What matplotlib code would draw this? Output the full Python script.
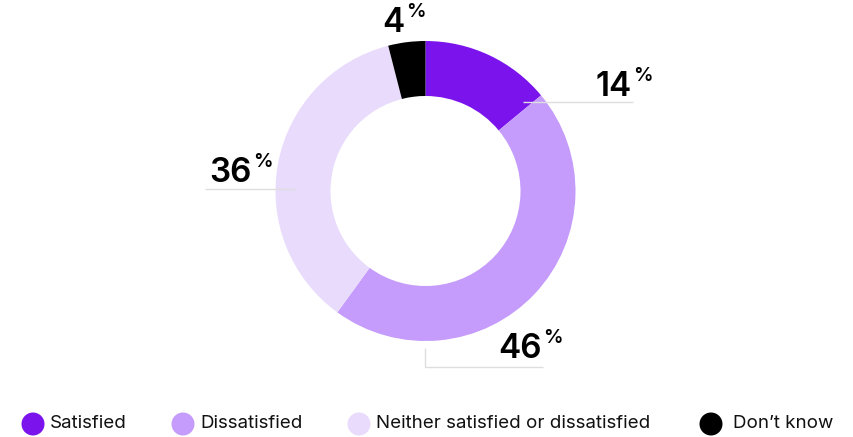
import matplotlib
matplotlib.use("Agg")
import matplotlib.pyplot as plt
from matplotlib.patches import Circle

# data
categories = ["Satisfied", "Dissatisfied", "Neither satisfied or dissatisfied", "Don\u2019t know"]
values = [14, 46, 36, 4]
colors = ["#7B14EC", "#C59BFB", "#E9DBFC", "#000000"]

W, H = 854, 437
plt.rcParams['font.family'] = ['Inter', 'DejaVu Sans']

fig = plt.figure(figsize=(W / 100, H / 100), dpi=100)
ax = fig.add_axes([0, 0, 1, 1])


def Y(y):
    # image pixel row -> data y
    return H - y


cx, cy = 425.5, Y(191)
ax.pie(values, colors=colors, center=(cx, cy), radius=150, startangle=90,
       counterclock=False, wedgeprops=dict(width=55, linewidth=0),
       frame=True)
ax.set_xlim(0, W)
ax.set_ylim(0, H)
ax.set_aspect('equal')
ax.axis('off')

# leader lines
line_kw = dict(color="#DEDEDE", lw=1, solid_capstyle='butt', zorder=3)
ax.plot([523, 633], [Y(102), Y(102)], **line_kw)
ax.plot([205, 295], [Y(189), Y(189)], **line_kw)
ax.plot([425, 425, 543], [Y(348), Y(367), Y(367)], **line_kw)

# value labels: (value index, right edge of number, baseline row)
label_pos = {0: (632, 96), 1: (542, 358), 2: (252, 182), 3: (405, 32)}
for i, (xr, base) in label_pos.items():
    ax.text(xr, Y(base), str(values[i]), ha='right', va='baseline',
            fontsize=24, fontweight='semibold', color='black')
    ax.text(xr + 1, Y(base - 29), "%", ha='left', va='top',
            fontsize=14, fontweight='semibold', color='black')

# legend
leg_x = [33, 183, 359, 711]
for i, name in enumerate(categories):
    ax.add_patch(Circle((leg_x[i], Y(424)), 11.5, color=colors[i], lw=0))
    ax.text(leg_x[i] + 17 + (5 if i == 3 else 0), Y(424), name, ha='left',
            va='center', fontsize=13.5, color='#111111')

fig.savefig("out.png", dpi=100)
